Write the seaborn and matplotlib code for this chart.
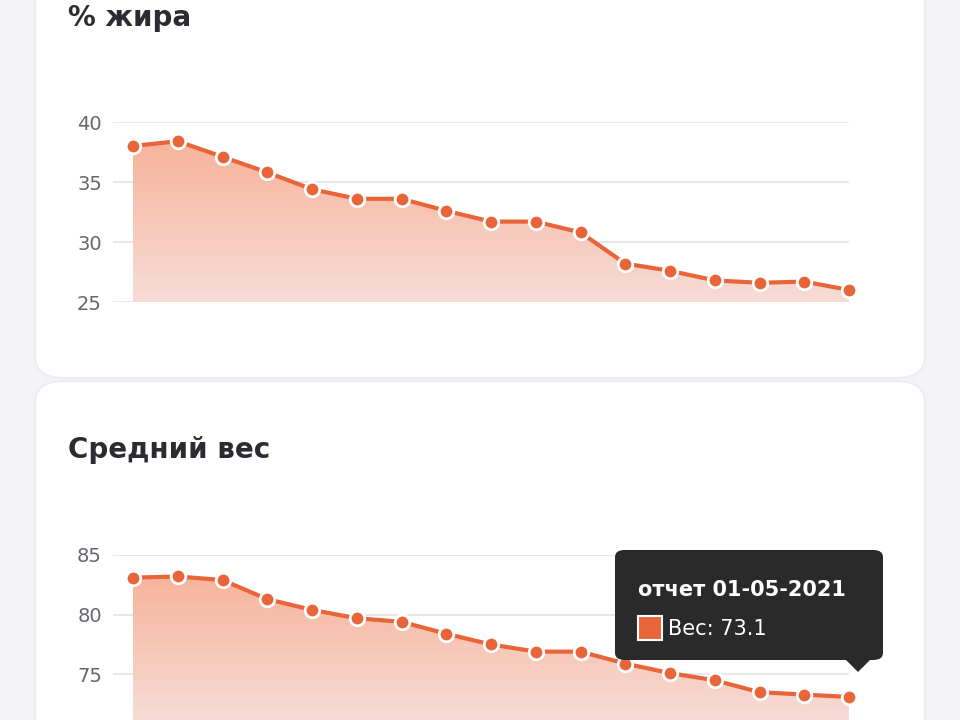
import matplotlib
matplotlib.use("Agg")
import matplotlib.pyplot as plt
import seaborn as sns
import numpy as np
from matplotlib.patches import FancyBboxPatch, Polygon
from matplotlib.colors import LinearSegmentedColormap

sns.set_theme(style="white")
plt.rcParams['font.family'] = ['DejaVu Sans']

fat = [38.0, 38.4, 37.1, 35.8, 34.4, 33.6, 33.6, 32.6, 31.7, 31.7, 30.8, 28.2, 27.6, 26.8, 26.6, 26.7, 26.0]
weight = [83.1, 83.2, 82.9, 81.3, 80.4, 79.7, 79.4, 78.4, 77.5, 76.9, 76.9, 75.9, 75.1, 74.5, 73.5, 73.3, 73.1]
fat_ticks = [25, 30, 35, 40]
weight_ticks = [75, 80, 85]
tooltip_title = "отчет 01-05-2021"
tooltip_label = "Вес: 73.1"

W, H = 960, 720
fig = plt.figure(figsize=(9.6, 7.2), dpi=100)
fig.patch.set_facecolor("#f4f4f8")

def card(x0, y0, x1, y1):
    p = FancyBboxPatch((x0 / W, 1 - y1 / H), (x1 - x0) / W, (y1 - y0) / H,
                       boxstyle="round,pad=0,rounding_size=0.03", transform=fig.transFigure,
                       facecolor="white", edgecolor="#ececf2", lw=1.5, zorder=0)
    fig.patches.append(p)

card(35, -40, 925, 378)
card(35, 381, 925, 800)

fig.text(68 / W, 1 - 18 / H, "% жира", fontsize=20, fontweight="bold", color="#2b2b33", va="center")
fig.text(68 / W, 1 - 450 / H, "Средний вес", fontsize=20, fontweight="bold", color="#2b2b33", va="center")

orange = "#e8653a"

def make_ax(top, bottom, vals, ylo, yhi, ticks):
    step = (849 - 133) / 16
    xlo = -(133 - 113) / step
    ax = fig.add_axes([113 / W, 1 - bottom / H, (849 - 113) / W, (bottom - top) / H])
    ax.set_zorder(2)
    ax.set_facecolor("none")
    x = np.arange(len(vals))
    ax.set_xlim(xlo, 16)
    ax.set_ylim(ylo, yhi)
    for t in ticks:
        ax.axhline(t, color="#e3e3e8", lw=1.2, zorder=0)
    grad = np.linspace(0, 1, 256).reshape(-1, 1)
    cmap = LinearSegmentedColormap.from_list("g", ["#f6dcd6", "#f8b39b"])
    im = ax.imshow(grad, extent=[0, 16, ylo, max(vals)], origin="lower", aspect="auto",
                   cmap=cmap, zorder=1)
    poly = Polygon(list(zip(x, vals)) + [(16, ylo), (0, ylo)], closed=True,
                   transform=ax.transData, facecolor="none", edgecolor="none")
    ax.add_patch(poly)
    im.set_clip_path(poly)
    ax.set_xlim(xlo, 16)
    ax.set_ylim(ylo, yhi)
    sns.lineplot(x=x, y=vals, ax=ax, color=orange, lw=3, zorder=3)
    ax.scatter(x, vals, s=110, color=orange, edgecolor="white", linewidth=2, zorder=4, clip_on=False)
    ax.set_yticks(ticks)
    ax.set_xticks([])
    ax.tick_params(axis="y", labelsize=14, labelcolor="#666670", length=0, pad=8)
    for s in ax.spines.values():
        s.set_visible(False)
    return ax

make_ax(122, 302, fat, 25, 40, fat_ticks)
ylo = 85 - (720 - 555) / 11.93
make_ax(555, 720, weight, ylo, 85, weight_ticks)

box = FancyBboxPatch((615 / W, 1 - 660 / H), (883 - 615) / W, (660 - 550) / H,
                     boxstyle="round,pad=0,rounding_size=0.01", transform=fig.transFigure,
                     facecolor="#2a2a2a", edgecolor="none", zorder=10)
fig.patches.append(box)
tri = Polygon([(845 / W, 1 - 659 / H), (871 / W, 1 - 659 / H), (858 / W, 1 - 672 / H)],
              closed=True, transform=fig.transFigure, facecolor="#2a2a2a", edgecolor="none", zorder=10)
fig.patches.append(tri)
fig.text(638 / W, 1 - 590 / H, tooltip_title, fontsize=15, fontweight="bold", color="white",
         va="center", zorder=11)
sq = FancyBboxPatch((638 / W, 1 - 640 / H), 24 / W, 24 / H, boxstyle="square,pad=0",
                    transform=fig.transFigure, facecolor=orange, edgecolor="white", lw=1.5, zorder=11)
fig.patches.append(sq)
fig.text(668 / W, 1 - 629 / H, tooltip_label, fontsize=15, color="white", va="center", zorder=11)

fig.savefig("out.png", dpi=100, facecolor=fig.get_facecolor())
